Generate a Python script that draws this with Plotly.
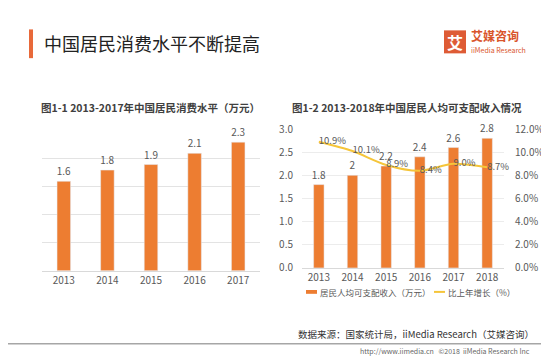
import plotly.graph_objects as go

W, H = 549, 357

# ---- data ----
years_left = ["2013", "2014", "2015", "2016", "2017"]
consumption = [1.6, 1.8, 1.9, 2.1, 2.3]
consumption_labels = ["1.6", "1.8", "1.9", "2.1", "2.3"]

years_right = ["2013", "2014", "2015", "2016", "2017", "2018"]
income = [1.8, 2.0, 2.2, 2.4, 2.6, 2.8]
income_labels = ["1.8", "2", "2.2", "2.4", "2.6", "2.8"]
growth = [0.109, 0.101, 0.089, 0.084, 0.090, 0.087]
growth_labels = ["10.9%", "10.1%", "8.9%", "8.4%", "9.0%", "8.7%"]

ORANGE = "#ED7D31"
YELLOW = "#F5C53A"
GRAY = "#595959"
FONT = "Noto Sans CJK SC"


def px(x):
    return x / W


def py(y):
    return 1 - y / H


fig = go.Figure()

fig.add_trace(go.Bar(
    x=years_left, y=consumption, text=consumption_labels, textposition="outside",
    textfont=dict(size=10, color=GRAY, family=FONT), marker_color=ORANGE,
    width=0.31, xaxis="x", yaxis="y", showlegend=False, cliponaxis=False,
    constraintext="none",
))

fig.add_trace(go.Bar(
    x=years_right, y=income, text=income_labels, textposition="outside",
    textfont=dict(size=10, color=GRAY, family=FONT), marker_color=ORANGE,
    width=0.31, xaxis="x2", yaxis="y2", showlegend=False, cliponaxis=False,
    constraintext="none",
))

fig.add_trace(go.Scatter(
    x=years_right, y=growth, mode="lines+text", text=growth_labels,
    textposition="middle right", textfont=dict(size=9.5, color=GRAY, family=FONT),
    line=dict(color=YELLOW, width=2, shape="spline", smoothing=0.8),
    xaxis="x2", yaxis="y3", showlegend=False, cliponaxis=False,
))

axis_font = dict(size=10, color=GRAY, family=FONT)

fig.update_layout(
    width=W, height=H,
    margin=dict(l=0, r=0, t=0, b=0),
    paper_bgcolor="white", plot_bgcolor="rgba(0,0,0,0)",
    font=dict(family=FONT),
    xaxis=dict(domain=[px(34), px(252)], anchor="y", showline=True,
               linecolor="#d9d9d9", tickfont=axis_font, ticks="",
               showgrid=False),
    yaxis=dict(domain=[py(266), py(120)], anchor="x", range=[0, 2.5],
               dtick=0.5, showticklabels=False, gridcolor="#e3e3e3",
               zeroline=False),
    xaxis2=dict(domain=[px(294), px(496)], anchor="y2", showline=True,
                linecolor="#d9d9d9", tickfont=axis_font, ticks="",
                showgrid=False),
    yaxis2=dict(domain=[py(263), py(118)], anchor="x2", range=[0, 3.0],
                dtick=0.5, tickformat=".1f", tickfont=axis_font,
                gridcolor="#ececec", zeroline=False, ticklabelstandoff=8),
    yaxis3=dict(overlaying="y2", side="right", anchor="x2", range=[0, 0.12],
                dtick=0.02, tickformat=".1%", tickfont=axis_font,
                showgrid=False, zeroline=False, ticklabelstandoff=10),
)

shapes = [
    # title accent bar
    dict(type="rect", xref="paper", yref="paper", x0=px(21), x1=px(25),
         y0=py(44), y1=py(14), fillcolor="#E8693A", line_width=0),
    # logo square
    dict(type="rect", xref="paper", yref="paper", x0=px(436), x1=px(458),
         y0=py(39), y1=py(15), fillcolor="#DE5B35", line_width=0),
    # bottom separator
    dict(type="line", xref="paper", yref="paper", x0=0, x1=1,
         y0=py(342), y1=py(342), line=dict(color="#a6a6a6", width=1.5)),
    # legend marks
    dict(type="rect", xref="paper", yref="paper", x0=px(298), x1=px(309),
         y0=py(290), y1=py(286), fillcolor=ORANGE, line_width=0),
    dict(type="line", xref="paper", yref="paper", x0=px(426), x1=px(437),
         y0=py(288), y1=py(288), line=dict(color=YELLOW, width=2)),
]

annotations = [
    dict(text="中国居民消费水平不断提高", x=px(34), y=py(28), xanchor="left",
         yanchor="middle", font=dict(size=18, color="#222222", family=FONT)),
    dict(text="<b>艾</b>", x=px(447), y=py(27), xanchor="center", yanchor="middle",
         font=dict(size=16, color="white", family=FONT)),
    dict(text="<b>艾媒咨询</b>", x=px(461), y=py(20), xanchor="left", yanchor="middle",
         font=dict(size=12, color="#D9542B", family=FONT)),
    dict(text="iiMedia Research", x=px(461), y=py(36), xanchor="left", yanchor="middle",
         font=dict(size=7, color="#D9542B", family=FONT)),
    dict(text="<b>图1-1 2013-2017年中国居民消费水平（万元）</b>", x=px(31), y=py(96),
         xanchor="left", yanchor="middle", font=dict(size=10.5, color="#404040", family=FONT)),
    dict(text="<b>图1-2 2013-2018年中国居民人均可支配收入情况</b>", x=px(282), y=py(96),
         xanchor="left", yanchor="middle", font=dict(size=10.5, color="#404040", family=FONT)),
    dict(text="居民人均可支配收入（万元）", x=px(310), y=py(288), xanchor="left",
         yanchor="middle", font=dict(size=8.5, color=GRAY, family=FONT)),
    dict(text="比上年增长（%）", x=px(438), y=py(288), xanchor="left",
         yanchor="middle", font=dict(size=8.5, color=GRAY, family=FONT)),
    dict(text="数据来源：国家统计局，iiMedia Research（艾媒咨询）", x=px(288), y=py(332),
         xanchor="left", yanchor="middle", font=dict(size=9.5, color="#333333", family=FONT)),
    dict(text="http://www.iimedia.cn   ©2018  iiMedia Research Inc", x=px(350), y=py(349.5),
         xanchor="left", yanchor="middle", font=dict(size=7, color="#666666", family=FONT)),
]
for a in annotations:
    a.update(xref="paper", yref="paper", showarrow=False)

fig.update_layout(shapes=shapes, annotations=annotations)

fig.write_html("out.html")
